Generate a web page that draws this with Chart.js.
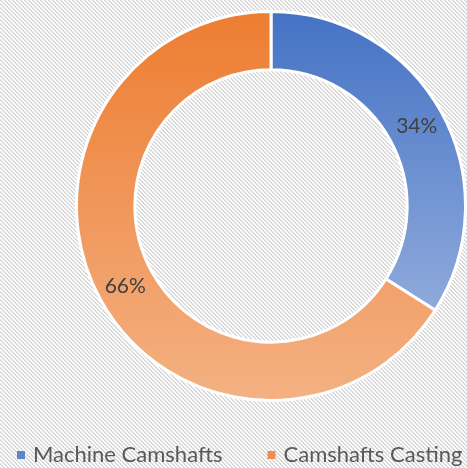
<!DOCTYPE html>
<html>
<head>
<meta charset="utf-8">
<script src="https://cdn.jsdelivr.net/npm/chart.js@4.4.1/dist/chart.umd.min.js"></script>
<style>
  html, body { margin: 0; padding: 0; background: #fff; }
  #wrap { width: 467px; height: 468px; position: relative; }
</style>
</head>
<body>
<div id="wrap"><canvas id="camshaft_chart"></canvas></div>
<script>
// data
const categories = ['Machine Camshafts', 'Camshafts Casting'];
const shares = [34, 66];

// colours (gradient top -> bottom, legend swatch)
const topColors = ['#4472C4', '#ED7D31'];
const bottomColors = ['#8FAADC', '#F4B183'];
const swatchColors = ['#5F84CC', '#F08E4F'];

const BORDER = 3;
const CUTOUT = 0.7;

// vertical gradient over the bounding box of each slice
function sliceFill(context) {
    const chart = context.chart;
    const area = chart.chartArea;
    const i = context.dataIndex;
    if (!area) return topColors[i];
    const cx = (area.left + area.right) / 2;
    const cy = (area.top + area.bottom) / 2;
    const r = (Math.min(area.width, area.height) - BORDER) / 2;
    const total = shares.reduce((a, b) => a + b, 0);
    let before = 0;
    for (let k = 0; k < i; k++) before += shares[k];
    const a0 = -Math.PI / 2 + before / total * Math.PI * 2;
    const a1 = a0 + shares[i] / total * Math.PI * 2;
    const ys = [
        cy + r * Math.sin(a0), cy + r * Math.sin(a1),
        cy + r * CUTOUT * Math.sin(a0), cy + r * CUTOUT * Math.sin(a1)
    ];
    if (a0 < Math.PI / 2 && a1 > Math.PI / 2) ys.push(cy + r);
    const g = chart.ctx.createLinearGradient(0, Math.min(...ys), 0, Math.max(...ys));
    g.addColorStop(0, topColors[i]);
    g.addColorStop(1, bottomColors[i]);
    return g;
}

// diagonal hatch behind everything
const hatchBackground = {
    id: 'hatchBackground',
    beforeDraw(chart) {
        const tile = document.createElement('canvas');
        tile.width = 4;
        tile.height = 4;
        const t = tile.getContext('2d');
        t.fillStyle = '#ffffff';
        t.fillRect(0, 0, 4, 4);
        t.fillStyle = '#d9d9d9';
        for (let x = 0; x < 4; x++) {
            for (let y = 0; y < 4; y++) {
                if (((x - y) % 4 + 4) % 4 < 2) t.fillRect(x, y, 1, 1);
            }
        }
        const ctx = chart.ctx;
        ctx.save();
        ctx.fillStyle = ctx.createPattern(tile, 'repeat');
        ctx.fillRect(0, 0, chart.width, chart.height);
        ctx.restore();
    }
};

// percentage inside each slice
const percentLabels = {
    id: 'percentLabels',
    afterDatasetsDraw(chart) {
        const ctx = chart.ctx;
        const meta = chart.getDatasetMeta(0);
        const total = shares.reduce((a, b) => a + b, 0);
        ctx.save();
        ctx.font = '21px Lato';
        ctx.fillStyle = '#404040';
        ctx.textAlign = 'center';
        ctx.textBaseline = 'middle';
        meta.data.forEach((arc, i) => {
            const p = arc.getProps(['x', 'y', 'startAngle', 'endAngle', 'innerRadius', 'outerRadius'], true);
            const mid = (p.startAngle + p.endAngle) / 2;
            const r = (p.innerRadius + p.outerRadius) / 2 + 1;
            ctx.fillText(Math.round(shares[i] / total * 100) + '%', p.x + Math.cos(mid) * r, p.y + Math.sin(mid) * r);
        });
        ctx.restore();
    }
};

// excel-like legend along the bottom
const bottomLegend = {
    id: 'bottomLegend',
    afterDraw(chart) {
        const ctx = chart.ctx;
        ctx.save();
        ctx.font = '22px Lato';
        ctx.textBaseline = 'middle';
        let x = 17;
        const y = 455;
        categories.forEach((name, i) => {
            ctx.fillStyle = swatchColors[i];
            ctx.fillRect(x, y - 4, 8, 8);
            ctx.fillStyle = '#595959';
            ctx.fillText(name, x + 16, y);
            x += 16 + ctx.measureText(name).width + 45;
        });
        ctx.restore();
    }
};

function drawChart() {
    new Chart(document.getElementById('camshaft_chart'), {
        type: 'doughnut',
        data: {
            labels: categories,
            datasets: [{
                data: shares,
                backgroundColor: sliceFill,
                borderColor: '#ffffff',
                borderWidth: BORDER,
                hoverBorderWidth: BORDER,
                clip: false
            }]
        },
        options: {
            responsive: true,
            maintainAspectRatio: false,
            animation: false,
            cutout: (CUTOUT * 100) + '%',
            layout: { padding: { left: 75, right: -4, top: 8, bottom: 64 } },
            plugins: {
                legend: { display: false },
                tooltip: { enabled: false }
            }
        },
        plugins: [hatchBackground, percentLabels, bottomLegend]
    });
}

if (document.fonts && document.fonts.load) {
    Promise.all([document.fonts.load('22px Lato'), document.fonts.load('21px Lato')])
        .then(drawChart, drawChart);
} else {
    drawChart();
}
</script>
</body>
</html>
